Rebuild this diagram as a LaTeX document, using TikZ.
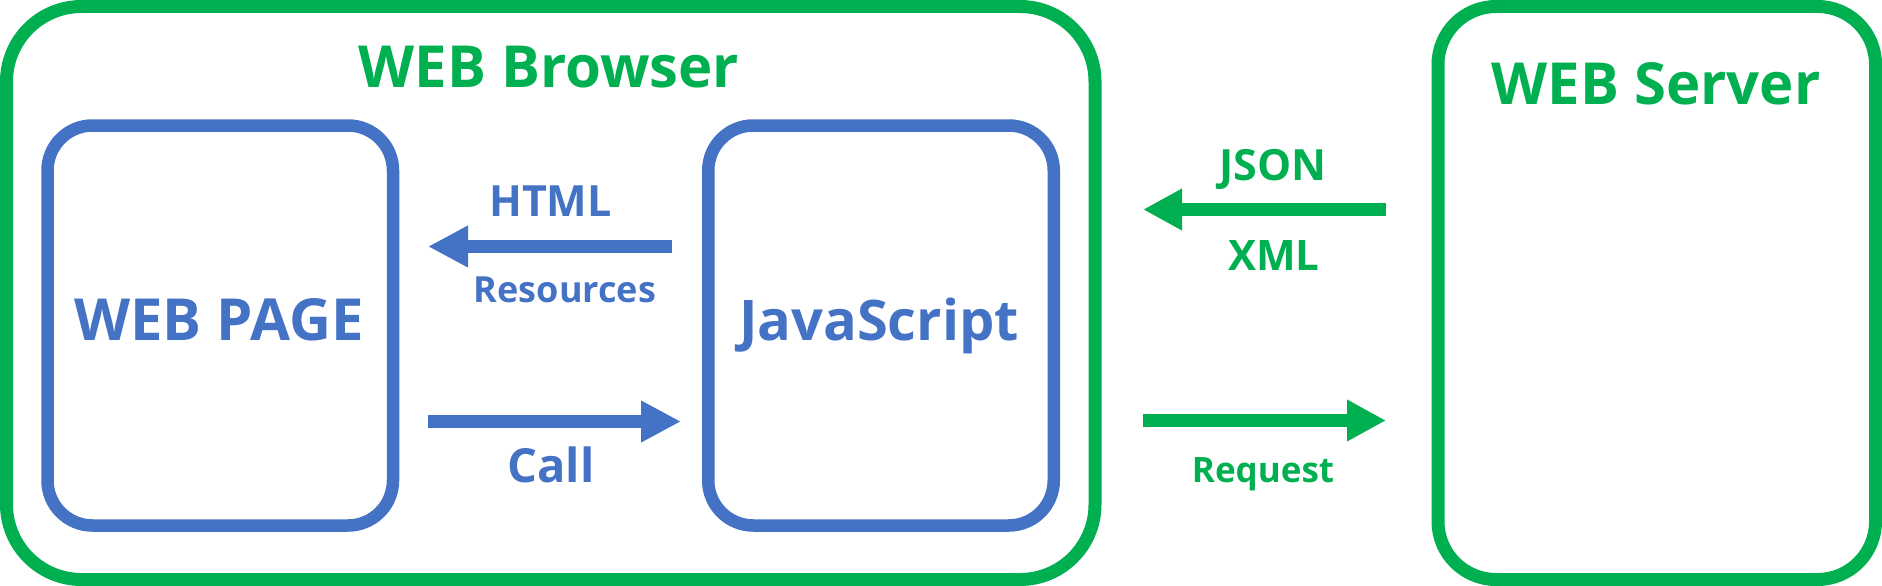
\documentclass[tikz,border=0pt]{standalone}
\usepackage{fontspec}
\setmainfont{Open Sans}
\usetikzlibrary{arrows.meta}
\definecolor{webgreen}{HTML}{00B050}
\definecolor{webblue}{HTML}{4472C4}
\begin{document}
\begin{tikzpicture}[x=1pt,y=-1pt,
		outerbox/.style={draw=webgreen,line width=13pt,rectangle,rounded corners=#1,inner sep=0pt,minimum height=573pt},
		innerbox/.style={draw=webblue,line width=12.5pt,rectangle,rounded corners=45pt,inner sep=0pt,minimum width=345.5pt,minimum height=400pt},
		title/.style={font=\bfseries\fontsize{#1}{70}\selectfont,anchor=base,inner sep=0pt},
		title/.default=58,
		tag/.style={font=\bfseries\fontsize{#1}{#1}\selectfont,anchor=base,inner sep=0pt},
		bluearrow/.style={draw=webblue,line width=13pt,-{Triangle[length=40pt,width=39pt]}},
		greenarrow/.style={draw=webgreen,line width=13pt,-{Triangle[length=39pt,width=39pt]}}]
		\useasboundingbox (0,0) rectangle (1882,586);
		% boxes
		\node (browser) at (550.75,293) [outerbox=75pt,minimum width=1088.5pt] {};
		\node (server) at (1656.75,293) [outerbox=58pt,minimum width=437.5pt] {};
		\node (page) at (220.25,325.5) [innerbox] {};
		\node (js) at (881,325.5) [innerbox] {};
		\node (browsertitle) at (549,88) [title,text=webgreen] {WEB Browser};
		\node (servertitle) at (1656,104) [title,text=webgreen] {WEB Server};
		\node (pagetitle) at (219,340) [title,text=webblue] {WEB PAGE};
		\node (jstitle) at (879,340) [title=56,text=webblue] {JavaScript};
		% inside the browser
		\coordinate (htmlfrom) at (672,246.5);
		\coordinate (htmlto) at (428,246.5);
		\draw[bluearrow] (htmlfrom)--(htmlto);
		\node (html) at (550.5,216) [tag=43,text=webblue] {HTML};
		\node (resources) at (565,302) [tag=36,text=webblue] {Resources};
		\coordinate (callfrom) at (428,421.5);
		\coordinate (callto) at (681,421.5);
		\draw[bluearrow] (callfrom)--(callto);
		\node (call) at (551,482) [tag=47,text=webblue] {Call};
		% browser and server
		\coordinate (jsonfrom) at (1386,209.5);
		\coordinate (jsonto) at (1143,209.5);
		\draw[greenarrow] (jsonfrom)--(jsonto);
		\node (json) at (1273,180) [tag=43,text=webgreen] {JSON};
		\node (xml) at (1274,270) [tag=42,text=webgreen] {XML};
		\coordinate (reqfrom) at (1143,420.5);
		\coordinate (reqto) at (1386,420.5);
		\draw[greenarrow] (reqfrom)--(reqto);
		\node (request) at (1263,482) [tag=35,text=webgreen] {Request};
	\end{tikzpicture}
\end{document}
